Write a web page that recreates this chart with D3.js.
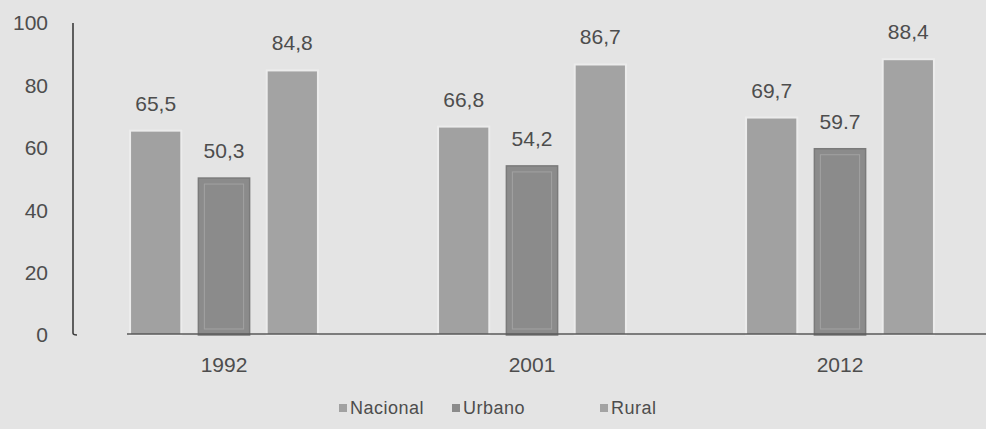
<!DOCTYPE html>
<html>
<head>
<meta charset="utf-8">
<script src="https://cdn.jsdelivr.net/npm/d3@7"></script>
<style>
  body { margin: 0; background: #e4e4e4; }
  svg { display: block; font-family: "Liberation Sans", Arial, sans-serif; }
</style>
</head>
<body>
<svg width="986" height="429"></svg>
<script>
(() => {

var years = ["1992", "2001", "2012"];
var series = ["Nacional", "Urbano", "Rural"];
var nacional = [65.5, 66.8, 69.7];
var urbano = [50.3, 54.2, 59.7];
var rural = [84.8, 86.7, 88.4];
var valueLabels = [["65,5", "50,3", "84,8"], ["66,8", "54,2", "86,7"], ["69,7", "59.7", "88,4"]];
var yTicks = [0, 20, 40, 60, 80, 100];

var data = years.map(function(y, i) {
  return {year: y, values: [nacional[i], urbano[i], rural[i]], labels: valueLabels[i]};
});

var svg = d3.select("svg");

// background
svg.append("rect").attr("width", 986).attr("height", 429).attr("fill", "#e4e4e4");

// Scale for groups.
var x0 = d3.scaleBand()
    .domain(years)
    .range([70, 994])
    .paddingInner(0.39)
    .paddingOuter(0.195);

// Scale for bars inside a group.
var x1 = d3.scaleBand()
    .domain(series)
    .range([0, x0.bandwidth()])
    .paddingInner(0.25);

var y = d3.scaleLinear()
    .domain([0, 100])
    .range([335, 23]);

var z = d3.scaleOrdinal()
    .domain(series)
    .range(["#a1a1a1", "#8b8b8b", "#a3a3a3"]);

// y axis labels
svg.append("g")
  .selectAll("text")
  .data(yTicks)
  .enter().append("text")
    .attr("x", 48)
    .attr("y", function(d) { return y(d); })
    .attr("dy", "0.35em")
    .attr("text-anchor", "end")
    .attr("font-size", 21)
    .attr("fill", "#4d4d4d")
    .text(function(d) { return d; });

// y axis line with small foot
svg.append("path")
    .attr("d", "M73," + y(100) + "V" + (y(0) - 2) + "Q73," + y(0) + " 77," + y(0))
    .attr("fill", "none")
    .attr("stroke", "#3c3c3c")
    .attr("stroke-width", 1.6);

var groups = svg.append("g")
  .selectAll("g")
  .data(data)
  .enter().append("g")
    .attr("transform", function(d) { return "translate(" + x0(d.year) + ",0)"; });

// bars
groups.selectAll("rect.bar")
  .data(function(d) { return series.map(function(s, i) { return {key: s, value: d.values[i], label: d.labels[i]}; }); })
  .enter().append("rect")
    .attr("class", "bar")
    .attr("x", function(d) { return x1(d.key); })
    .attr("y", function(d) { return y(d.value); })
    .attr("width", x1.bandwidth())
    .attr("height", function(d) { return y(0) - y(d.value); })
    .attr("fill", function(d) { return z(d.key); })
    .attr("stroke", function(d) { return d.key == "Urbano" ? "#7a7a7a" : "#ececec"; })
    .attr("stroke-width", function(d) { return d.key == "Urbano" ? 1.5 : 2; });

// inner light frame on Urbano bars
groups.selectAll("rect.inner")
  .data(function(d) { return [{key: "Urbano", value: d.values[1]}]; })
  .enter().append("rect")
    .attr("class", "inner")
    .attr("x", function(d) { return x1(d.key) + 6; })
    .attr("y", function(d) { return y(d.value) + 6; })
    .attr("width", x1.bandwidth() - 12)
    .attr("height", function(d) { return y(0) - y(d.value) - 12; })
    .attr("fill", "none")
    .attr("stroke", "#a2a2a2")
    .attr("stroke-width", 1);

// value labels
groups.selectAll("text.val")
  .data(function(d) { return series.map(function(s, i) { return {key: s, value: d.values[i], label: d.labels[i]}; }); })
  .enter().append("text")
    .attr("class", "val")
    .attr("x", function(d) { return x1(d.key) + x1.bandwidth() / 2; })
    .attr("y", function(d) { return y(d.value) - 20; })
    .attr("text-anchor", "middle")
    .attr("font-size", 21)
    .attr("fill", "#4d4d4d")
    .text(function(d) { return d.label; });

// baseline
svg.append("line")
    .attr("x1", 127)
    .attr("x2", 986)
    .attr("y1", y(0) - 1)
    .attr("y2", y(0) - 1)
    .attr("stroke", "#5a5a5a")
    .attr("stroke-width", 1.6);

// year labels
svg.append("g")
  .selectAll("text")
  .data(years)
  .enter().append("text")
    .attr("x", function(d) { return x0(d) + x0.bandwidth() / 2; })
    .attr("y", 365)
    .attr("dy", "0.35em")
    .attr("text-anchor", "middle")
    .attr("font-size", 21)
    .attr("fill", "#4d4d4d")
    .text(function(d) { return d; });

// legend
var legendX = [339, 452, 600];
var legend = svg.append("g")
  .selectAll("g")
  .data(series)
  .enter().append("g")
    .attr("transform", function(d, i) { return "translate(" + legendX[i] + ",408)"; });

legend.append("rect")
    .attr("x", 0)
    .attr("y", -4)
    .attr("width", 8)
    .attr("height", 8)
    .attr("fill", z);

legend.append("text")
    .attr("x", 11)
    .attr("y", 0)
    .attr("dy", "0.35em")
    .attr("font-size", 18)
    .attr("letter-spacing", 0.5)
    .attr("fill", "#4d4d4d")
    .text(function(d) { return d; });

})();
</script>
</body>
</html>
